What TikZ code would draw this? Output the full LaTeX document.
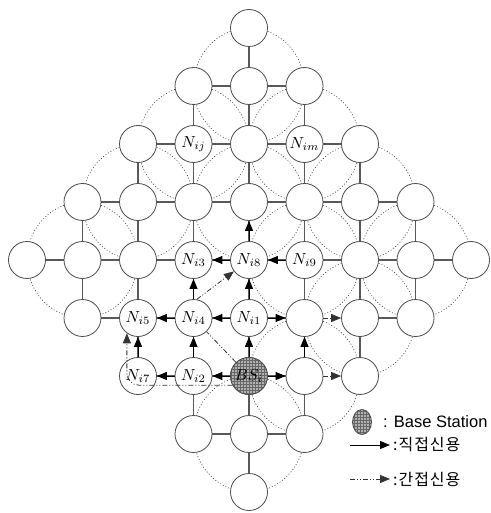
\documentclass[tikz,border=0pt]{standalone}
\usepackage{fontspec}
\newfontfamily\latinsans{Liberation Sans}
\newfontfamily\kofont[LetterSpace=6]{Noto Sans CJK KR}
\usetikzlibrary{arrows.meta,patterns,backgrounds,shapes.geometric}

\tikzset{
  sensor/.style={circle, draw=black!70, line width=0.8pt, fill=white, minimum size=37pt, inner sep=0pt},
  basest/.style={draw=black!70, line width=0.8pt, preaction={fill=black!30}, pattern=grid, pattern color=black!60},
  link/.style={draw=black!65, line width=1.2pt},
  rangering/.style={draw=black!75, line width=0.6pt, dash pattern=on 1pt off 2pt},
  direct/.style={draw=black, line width=1pt, -{Triangle[length=10pt,width=8pt]}},
  indirect/.style={draw=black!80, line width=0.8pt, dash pattern=on 5pt off 2pt on 1pt off 2pt on 1pt off 2pt, -{Triangle[length=10pt,width=8pt]}},
  lab/.style={scale=1.6, inner sep=0pt},
}

\begin{document}
\begin{tikzpicture}[x=1pt, y=-1pt]
    \useasboundingbox (0,0) rectangle (490,513);

    % Sensor nodes (diamond grid)
    \foreach \r in {0,...,8} {
        \pgfmathtruncatemacro\m{min(\r,8-\r)}
        \pgfmathtruncatemacro\kl{4-\m}
        \pgfmathtruncatemacro\kh{4+\m}
        \foreach \k in {\kl,...,\kh}
            \node[sensor] (v\r\k) at ({249+55.5*(\k-4)}, {28+58*\r}) {};
    }
    \draw[basest] (v64.center) circle[radius=18.5pt];

    % Labels
    \node[lab] (nij) at (v23) {$N_{ij}$};
    \node[lab] (nim) at (v25) {$N_{im}$};
    \node[lab] (ni3) at (v43) {$N_{i3}$};
    \node[lab] (ni8) at (v44) {$N_{i8}$};
    \node[lab] (ni9) at (v45) {$N_{i9}$};
    \node[lab] (ni5) at (v52) {$N_{i5}$};
    \node[lab] (ni4) at (v53) {$N_{i4}$};
    \node[lab] (ni1) at (v54) {$N_{i1}$};
    \node[lab] (ni7) at (v62) {$N_{i7}$};
    \node[lab] (ni2) at (v63) {$N_{i2}$};
    \node[lab] (bsi) at (v64) {$BS_i$};

    \begin{scope}[on background layer]
        % Ranges
        \foreach \c in {14,23,25,32,34,36,41,45,47,56,65,74}
            \draw[rangering] (v\c) ellipse [x radius=55.5pt, y radius=58pt];
        % Horizontal links
        \foreach \r in {1,...,7} {
            \pgfmathtruncatemacro\m{min(\r,8-\r)}
            \pgfmathtruncatemacro\kl{4-\m}
            \pgfmathtruncatemacro\kh{3+\m}
            \foreach \k in {\kl,...,\kh} {
                \pgfmathtruncatemacro\kn{\k+1}
                \pgfmathtruncatemacro\hide{(\r==5 || \r==6) && \k==5}
                \ifnum\hide=0 \draw[link] (v\r\k) -- (v\r\kn); \fi
            }
        }
        % Vertical links
        \foreach \r in {0,...,7} {
            \pgfmathtruncatemacro\m{min(\r,7-\r)}
            \pgfmathtruncatemacro\rn{\r+1}
            \pgfmathtruncatemacro\kl{4-\m}
            \pgfmathtruncatemacro\kh{4+\m}
            \foreach \k in {\kl,...,\kh}
                \draw[link] (v\r\k) -- (v\rn\k);
        }
    \end{scope}

    % Direct trust
    \draw[direct] (v64) -- (v54);
    \draw[direct] (v64) -- (v63);
    \draw[direct] (v64) -- (v65);
    \draw[direct] (v63) -- (v62);
    \draw[direct] (v63) -- (v53);
    \draw[direct] (v62) -- (v52);
    \draw[direct] (v54) -- (v53);
    \draw[direct] (v53) -- (v52);
    \draw[direct] (v53) -- (v43);
    \draw[direct] (v54) -- (v44);
    \draw[direct] (v54) -- (v55);
    \draw[direct] (v44) -- (v43);
    \draw[direct] (v45) -- (v44);
    \draw[direct] (v44) -- (v34);
    \draw[direct] (v65) -- (v55);

    % Indirect trust
    \draw[indirect, -] (v64) -- (v53);
    \draw[indirect] (v53.80) -- (v44);
    \draw[indirect, rounded corners=12pt] (v64.209) -- (v52.234 |- v64.209) -- (v52.234);
    \draw[indirect] (v55) -- (v56);
    \draw[indirect] (v65) -- (v66);

    % Legend
    \node[basest, ellipse, minimum width=19pt, minimum height=25pt, inner sep=0pt] (keybs) at (362,422) {};
    \node[anchor=west, inner sep=0pt, font=\latinsans\fontsize{16.5}{18}\selectfont] (keybstxt) at (383,422) {: Base Station};
    \coordinate (kd1) at (350,445);
    \coordinate (kd2) at (390,445);
    \draw[direct] (kd1) -- (kd2);
    \node[anchor=west, inner sep=0pt, font=\kofont\fontsize{16}{18}\selectfont] (kdtxt) at (393,445) {:직접신용};
    \coordinate (ki1) at (350,479);
    \coordinate (ki2) at (390,479);
    \draw[indirect] (ki1) -- (ki2);
    \node[anchor=west, inner sep=0pt, font=\kofont\fontsize{16}{18}\selectfont] (kitxt) at (393,479) {:간접신용};
\end{tikzpicture}
\end{document}
